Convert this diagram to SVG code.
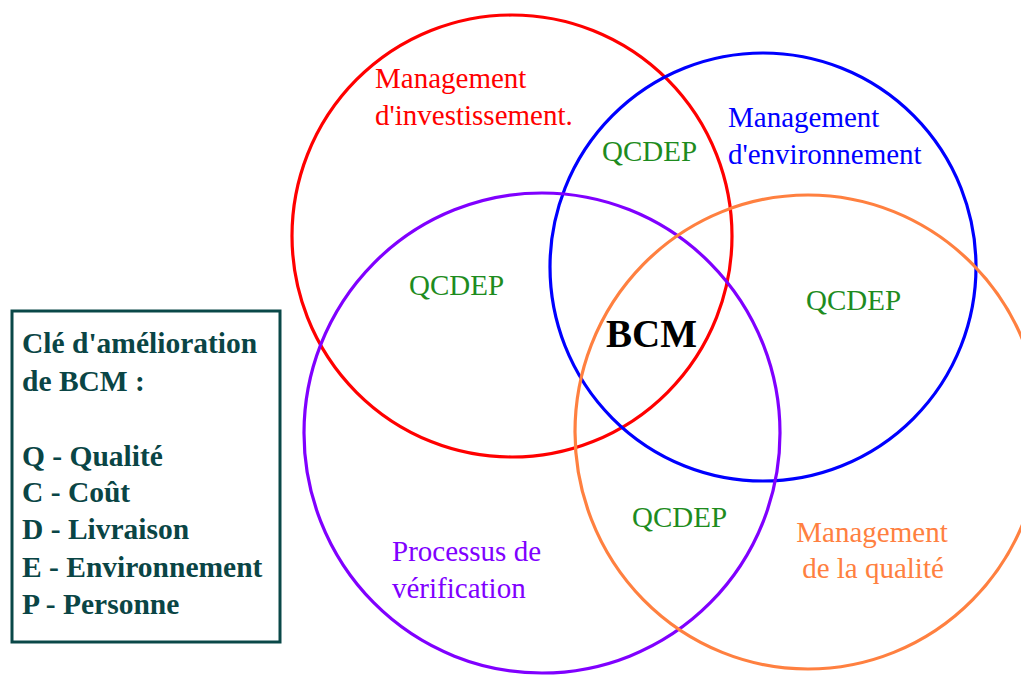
<svg xmlns="http://www.w3.org/2000/svg" width="1021" height="675" viewBox="0 0 1021 675">
<style>
.c{fill:none;stroke-width:3.2}
.t{font-family:"Liberation Serif","Times New Roman",serif;font-size:29px}
.q{fill:#1E8C1E}
.lg{font-family:"Liberation Serif","Times New Roman",serif;font-size:29.5px;font-weight:bold;fill:#0A4545}
</style>
<rect width="1021" height="675" fill="#fff"/>
<g id="investissement">
<ellipse class="c" cx="512" cy="236" rx="220" ry="221" stroke="#FF0000"/>
<text class="t" fill="#FF0000" x="375" y="88">Management</text>
<text class="t" fill="#FF0000" x="375" y="125">d'investissement.</text>
</g>
<g id="environnement">
<ellipse class="c" cx="763" cy="267" rx="213" ry="214" stroke="#0000FF"/>
<text class="t" fill="#0000FF" x="728" y="127">Management</text>
<text class="t" fill="#0000FF" x="728" y="164">d'environnement</text>
</g>
<g id="verification">
<ellipse class="c" cx="542" cy="433" rx="238" ry="240" stroke="#8000FF"/>
<text class="t" fill="#8000FF" x="392" y="561">Processus de</text>
<text class="t" fill="#8000FF" x="392" y="598">vérification</text>
</g>
<g id="qualite">
<ellipse class="c" cx="808" cy="432" rx="233" ry="237" stroke="#FF8040"/>
<text class="t" fill="#FF8040" x="872" y="542" text-anchor="middle">Management</text>
<text class="t" fill="#FF8040" x="873" y="578" text-anchor="middle">de la qualité</text>
</g>
<g id="labels">
<text class="t q" x="602" y="161">QCDEP</text>
<text class="t q" x="409" y="295">QCDEP</text>
<text class="t q" x="806" y="310">QCDEP</text>
<text class="t q" x="632" y="527">QCDEP</text>
<text x="606" y="347" font-family="'Liberation Serif','Times New Roman',serif" font-size="39" font-weight="bold" fill="#000">BCM</text>
</g>
<g id="legend">
<rect x="12" y="311" width="268" height="331" fill="#fff" stroke="#0A4848" stroke-width="3"/>
<text class="lg" x="22" y="353">Clé d'amélioration</text>
<text class="lg" x="22" y="391">de BCM :</text>
<text class="lg" x="22" y="466">Q - Qualité</text>
<text class="lg" x="22" y="502">C - Coût</text>
<text class="lg" x="22" y="539">D - Livraison</text>
<text class="lg" x="22" y="577">E - Environnement</text>
<text class="lg" x="22" y="614">P - Personne</text>
</g>
<g id="connectors"></g>
</svg>
